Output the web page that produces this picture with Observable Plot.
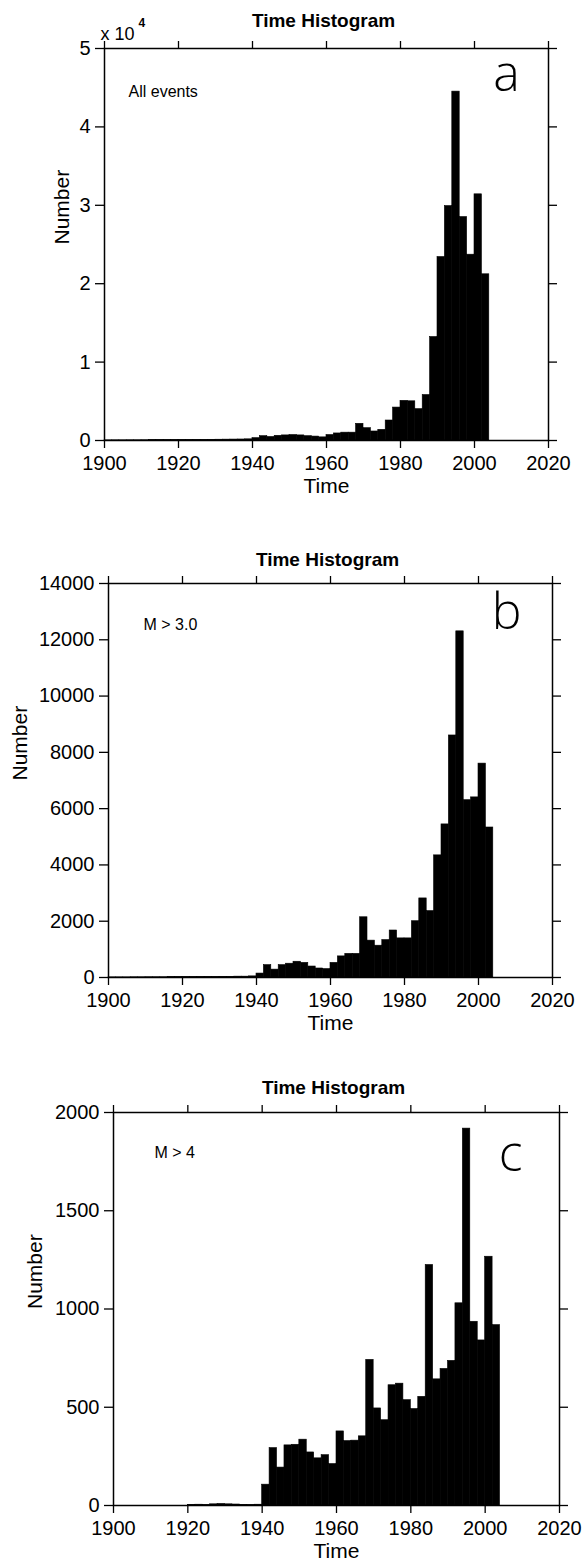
<!DOCTYPE html>
<html>
<head>
<meta charset="utf-8">
<script src="https://cdn.jsdelivr.net/npm/d3@7"></script>
<script src="https://cdn.jsdelivr.net/npm/@observablehq/plot@0.6"></script>
<style>
  html, body { margin: 0; padding: 0; background: #fff; }
  body { width: 586px; height: 1561px; position: relative; overflow: hidden; font-family: "Liberation Sans", Arial, sans-serif; }
  .panel { position: absolute; left: 0; }
</style>
</head>
<body>
<div id="pa" class="panel" style="top:0px"></div>
<div id="pb" class="panel" style="top:520px"></div>
<div id="pc" class="panel" style="top:1040px"></div>
<script>
// ---- data (2-year bins, bin start year) ----
const binStart = [1900,1902,1904,1906,1908,1910,1912,1914,1916,1918,
                  1920,1922,1924,1926,1928,1930,1932,1934,1936,1938,
                  1940,1942,1944,1946,1948,1950,1952,1954,1956,1958,
                  1960,1962,1964,1966,1968,1970,1972,1974,1976,1978,
                  1980,1982,1984,1986,1988,1990,1992,1994,1996,1998,
                  2000,2002];
const binWidth = 2;
const countsAll = [20,25,25,30,30,35,40,40,45,50,
                   60,60,70,80,90,100,110,120,130,150,
                   300,550,450,600,650,700,650,550,500,400,
                   700,900,1000,1000,2130,1570,1150,1360,2550,4200,
                   5060,5000,4000,5800,13200,23400,29900,44500,28500,23700,
                   31400,21200];
const countsM3 = [5,5,5,8,8,10,10,10,12,12,
                  15,15,18,20,20,25,25,30,30,40,
                  140,440,280,440,490,560,520,390,320,300,
                  520,750,840,840,2140,1310,1130,1330,1670,1390,
                  1390,2000,2810,2360,4340,5440,8600,12300,6300,6400,
                  7600,5330];
const countsM4 = [0,0,0,0,0,0,0,0,0,0,
                  3,4,2,6,8,6,5,3,2,4,
                  106,292,193,306,309,335,270,240,256,211,
                  377,328,330,352,741,494,434,612,620,536,
                  491,553,1224,642,695,736,1029,1918,935,840,
                  1266,918];

const xTicks = [1900,1920,1940,1960,1980,2000,2020];
const yTicksA = [0,10000,20000,30000,40000,50000];
const yTicksB = [0,2000,4000,6000,8000,10000,12000,14000];
const yTicksC = [0,500,1000,1500,2000];
const titleText = "Time Histogram";
const xLabel = "Time";
const yLabel = "Number";
const notes = ["All events", "M > 3.0", "M > 4"];
const letters = ["a", "b", "c"];
const expText = "x 10";
const expPower = "4";

function rowsFor(counts) {
  return binStart.map((s, i) => ({x1: s, x2: s + binWidth, count: counts[i]}));
}

function makePanel(opt) {
  const marks = [
    Plot.rectY(rowsFor(opt.counts), {x1: "x1", x2: "x2", y: "count", fill: "black", stroke: "black", strokeWidth: 0.6, inset: 0}),
    Plot.axisX({anchor: "bottom", ticks: xTicks, tickSize: 8, tickPadding: 7, fontSize: 20, tickFormat: d => String(d), label: null, strokeWidth: 1.3}),
    Plot.axisX({anchor: "top", ticks: xTicks, tickSize: 8, tickFormat: () => "", label: null, strokeWidth: 1.3}),
    Plot.axisY({anchor: "left", ticks: opt.yTicks, tickSize: 9, tickPadding: 5, fontSize: 20, tickFormat: opt.yFormat, label: null, strokeWidth: 1.3}),
    Plot.axisY({anchor: "right", ticks: opt.yTicks, tickSize: 8, tickFormat: () => "", label: null, strokeWidth: 1.3}),
    Plot.frame({stroke: "black", strokeWidth: 1.5}),
    Plot.text([titleText], {frameAnchor: "top", lineAnchor: "middle", dx: -3, dy: opt.titleDy, fontSize: 19, fontWeight: "bold", fill: "black"}),
    Plot.text([xLabel], {frameAnchor: "bottom", lineAnchor: "middle", dy: 46, fontSize: 21, fill: "black"}),
    Plot.text([yLabel], {frameAnchor: "left", lineAnchor: "middle", dx: opt.yLabelDx, rotate: -90, fontSize: 21, fill: "black"}),
    Plot.text([opt.note], {frameAnchor: "top-left", lineAnchor: "middle", textAnchor: "start", dx: opt.noteDx, dy: opt.noteDy, fontSize: 16, fill: "black"}),
    Plot.text([opt.letter], {frameAnchor: "top-right", lineAnchor: "middle", textAnchor: "middle", dx: opt.letterDx, dy: opt.letterDy, fontSize: 50, fontWeight: 300, fontFamily: "Open Sans, DejaVu Sans, sans-serif", fill: "black"})
  ];
  if (opt.exp) {
    marks.push(Plot.text([expText], {frameAnchor: "top-left", lineAnchor: "middle", textAnchor: "start", dx: -4, dy: -14, fontSize: 18, fill: "black"}));
    marks.push(Plot.text([expPower], {frameAnchor: "top-left", lineAnchor: "middle", textAnchor: "start", dx: 34, dy: -25, fontSize: 12, fontWeight: "bold", fill: "black"}));
  }
  const chart = Plot.plot({
    width: 586,
    height: opt.height,
    marginTop: opt.mt,
    marginBottom: opt.mb,
    marginLeft: opt.ml,
    marginRight: opt.mr,
    x: {domain: [1900, 2020]},
    y: {domain: [0, opt.yMax]},
    style: {fontFamily: "'Liberation Sans', Arial, sans-serif", color: "black", background: "white", overflow: "visible"},
    marks
  });
  document.getElementById(opt.id).appendChild(chart);
}

makePanel({id: "pa", counts: countsAll, yMax: 50000, yTicks: yTicksA, yFormat: d => String(d / 10000),
  height: 500, mt: 48, mb: 60, ml: 104, mr: 38, titleDy: -28, yLabelDx: -42,
  note: notes[0], noteDx: 24, noteDy: 43, letter: letters[0], letterDx: -42, letterDy: 26, exp: true});
makePanel({id: "pb", counts: countsM3, yMax: 14000, yTicks: yTicksB, yFormat: d => String(d),
  height: 520, mt: 63, mb: 63, ml: 108, mr: 34, titleDy: -24, yLabelDx: -88,
  note: notes[1], noteDx: 35, noteDy: 41, letter: letters[1], letterDx: -46, letterDy: 29, exp: false});
makePanel({id: "pc", counts: countsM4, yMax: 2000, yTicks: yTicksC, yFormat: d => String(d),
  height: 521, mt: 72, mb: 56, ml: 113, mr: 27, titleDy: -25, yLabelDx: -78,
  note: notes[2], noteDx: 41, noteDy: 40, letter: letters[2], letterDx: -49, letterDy: 42, exp: false});
</script>
</body>
</html>
